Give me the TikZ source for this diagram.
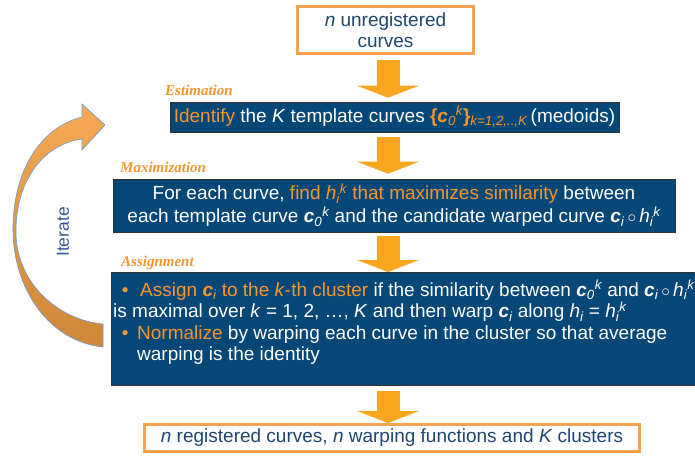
\documentclass[tikz,border=0pt]{standalone}
\usepackage{fontspec}
\setmainfont{Liberation Sans}
\newfontfamily\headfont{Liberation Serif}
\usetikzlibrary{arrows.meta,calc,positioning}

\definecolor{boxblue}{RGB}{5,72,120}
\definecolor{accent}{RGB}{247,150,45}
\definecolor{arrowfill}{RGB}{250,166,30}
\definecolor{frameorange}{RGB}{247,162,80}
\definecolor{inkblue}{RGB}{30,70,112}
\definecolor{iterblue}{RGB}{52,88,142}
\definecolor{loopedge}{RGB}{110,155,210}
\definecolor{looptop}{RGB}{247,168,82}
\definecolor{loopbot}{RGB}{206,135,55}

\newcommand{\vc}{\textbf{\textit{c}}}
\newcommand{\lo}[1]{\textsubscript{\itshape #1}}
\newcommand{\hi}[1]{\textsuperscript{\itshape #1}}
\newcommand{\ck}{\vc\lo{0}\hi{k}}
\newcommand{\itm}{\makebox[24pt][c]{\textcolor{accent}{•}}}

\begin{document}
\begin{tikzpicture}[x=1pt,y=-1pt,
	txt/.style={font=\fontsize{19}{21.5}\selectfont},
	framebox/.style={txt, draw=frameorange, line width=3pt, text=inkblue, align=center, inner sep=0pt},
	bluebox/.style={txt, draw=black!80, line width=0.6pt, fill=boxblue, text=white, inner sep=0pt},
	steplabel/.style={font=\headfont\bfseries\itshape\fontsize{15}{15}\selectfont, text=accent, anchor=base west, inner sep=0pt},
	flow/.style={draw=arrowfill, line width=23pt, -{Triangle[width=62pt,length=12pt,line width=0pt]}}]
	\useasboundingbox (0,0) rectangle (695,455);
	\coordinate (mid) at (388,0);
	
	% the four stages
	\node[framebox, minimum width=176pt, minimum height=47pt] (nin) at (385.5,30) {\textit{n} unregistered\\curves};
	\node[bluebox, minimum width=449pt, minimum height=30pt] (est) at (394.5,117) {\textcolor{accent}{Identify} the \textit{K} template curves \textcolor{accent}{\textbf{\{}\ck\textbf{\}}\lo{k=1,2,..,K}}\,(medoids)};
	\node[bluebox, align=center, font=\fontsize{19}{23}\selectfont, minimum width=562pt, minimum height=53pt] (max) at (394,205.5) {For each curve, \textcolor{accent}{find \textit{h}\lo{i}\hi{k} that maximizes similarity} between\\each template curve \ck{} and the candidate warped curve \vc\lo{i}\,$\circ$\,\textit{h}\lo{i}\hi{k}};
	\node[bluebox, minimum width=600pt, minimum height=113pt, anchor=north west] (asg) at (111,272) {};
	\node[txt, text=white, align=left, anchor=north west, inner sep=0pt] (asgtext) at (113,280) {\itm\hspace{3pt}\textcolor{accent}{Assign \vc\lo{i} to the \textit{k}-th cluster} if the similarity between \ck{} and \vc\lo{i}\,$\circ$\,\textit{h}\lo{i}\hi{k}\\is maximal over \textit{k} = 1, 2, …, \textit{K} and then warp \vc\lo{i} along \textit{h}\lo{i} = \textit{h}\lo{i}\hi{k}\\\itm\textcolor{accent}{Normalize} by warping each curve in the cluster so that average\\\hspace*{24pt}warping is the identity};
	\node[framebox, minimum width=495pt, minimum height=27pt] (out) at (392,438) {\textit{n} registered curves, \textit{n} warping functions and \textit{K} clusters};
	
	\node[steplabel] (lest) at (165,95) {Estimation};
	\node[steplabel] (lmax) at (120,172) {Maximization};
	\node[steplabel] (lasg) at (121,266) {Assignment};
	
	% block arrows
	\draw[flow] ($(nin.south -| mid)+(0,5)$) -- ($(est.north -| mid)+(0,-4)$);
	\draw[flow] ($(est.south -| mid)+(0,5)$) -- ($(max.north -| mid)+(0,-5)$);
	\draw[flow] ($(max.south -| mid)+(0,4)$) -- (asg.north -| mid);
	\draw[flow] ($(asg.south -| mid)+(0,5)$) -- (out.north -| mid);
	
	% loop back
	\draw[draw=loopedge, line width=0.6pt, top color=looptop, bottom color=loopbot] (105,125) -- (82,104) -- (82,117) .. controls (38,128) and (12,175) .. (13,232) .. controls (14,287) and (47,341) .. (103,347) -- (103,324) .. controls (58,320) and (17,283) .. (16,234) .. controls (15,185) and (40,145) .. (82,139) -- (82,150) -- cycle;
	\node[txt, text=iterblue, rotate=90, font=\fontsize{17.5}{17.5}\selectfont] (iter) at (63,232) {Iterate};
\end{tikzpicture}
\end{document}
